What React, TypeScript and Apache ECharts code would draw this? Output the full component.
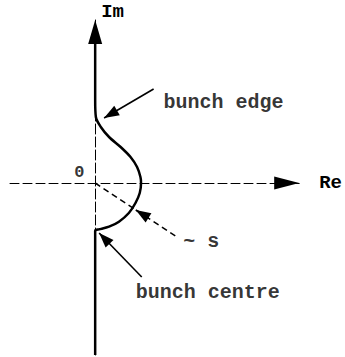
import React, { useEffect, useRef } from "react";
import * as echarts from "echarts";

const locusRe = [0, 0, 0, 0.7, 5.7, 14, 25.7, 35.7, 42.3, 45.7, 46.3, 45, 40.7, 34, 24, 14, 4, 0.7, 0, 0, 0];
const locusIm = [142, 100, 83, 66, 56, 46, 36, 26, 16, 6, 0, -10, -20, -30, -38.7, -43.7, -46.3, -47, -48, -62, -172];

// Annotation texts and their anchor points (Re, Im).
const noteTexts = ["bunch edge", "bunch centre", "~ s", "0"];
const noteRe = [69, 41, 89, -16];
const noteIm = [81, -109, -58, 11];

// Pointer arrows: [fromRe, fromIm, toRe, toIm]
const pointerEdge = [59, 94, 9, 65];
const pointerCentre = [47, -94, 4, -50];
const pointerRadius = [54, -35, 41, -27];
// Dashed radius line from the origin
const radiusLine = [0, 0, 81, -53];

const FONT = "'Liberation Mono', 'DejaVu Sans Mono', monospace";

export default function App() {
  const ref = useRef<HTMLDivElement>(null);

  useEffect(() => {
    if (!ref.current) return;
    const chart = echarts.init(ref.current, null, { renderer: "svg" });

    const locus = locusRe.map((x, i) => [x, locusIm[i]]);
    const notes = noteTexts.map((t, i) => ({
      value: [noteRe[i], noteIm[i], t],
      label:
        t === "0"
          ? { position: "inside", fontSize: 17 }
          : { position: "right", distance: 0 },
    }));

    const arrow = (p: number[]) => [
      { coord: [p[0], p[1]], symbol: "none" },
      { coord: [p[2], p[3]], symbol: "triangle", symbolSize: [11, 15], symbolOffset: [0, 7.5] },
    ];

    chart.setOption({
      animation: false,
      grid: { left: 10, right: 43, top: 20, bottom: 2 },
      xAxis: {
        type: "value",
        min: -86,
        max: 206,
        name: "Re",
        nameLocation: "end",
        nameGap: 20,
        nameTextStyle: {
          fontFamily: FONT,
          fontSize: 19,
          fontWeight: "bold",
          color: "#000",
          padding: [5, 0, 0, 0],
        },
        axisLine: {
          onZero: true,
          lineStyle: { color: "#000", width: 1, type: [9, 4] },
          symbol: ["none", "triangle"],
          symbolSize: [13, 25],
          symbolOffset: [0, -12.5],
        },
        axisTick: { show: false },
        axisLabel: { show: false },
        splitLine: { show: false },
      },
      yAxis: {
        type: "value",
        min: -172,
        max: 163,
        name: "Im",
        nameLocation: "end",
        nameGap: 8,
        nameTextStyle: {
          fontFamily: FONT,
          fontSize: 19,
          fontWeight: "bold",
          color: "#000",
          align: "left",
          verticalAlign: "middle",
          padding: [0, 0, 0, 6],
        },
        axisLine: {
          onZero: true,
          lineStyle: { color: "#000", width: 1, type: [10, 3] },
          symbol: ["none", "triangle"],
          symbolSize: [14, 24],
          symbolOffset: [0, -12],
        },
        axisTick: { show: false },
        axisLabel: { show: false },
        splitLine: { show: false },
      },
      series: [
        {
          type: "line",
          name: "locus",
          data: locus,
          smooth: 0.3,
          showSymbol: false,
          lineStyle: { color: "#000", width: 2.5 },
          silent: true,
          markLine: {
            silent: true,
            label: { show: false },
            lineStyle: { color: "#000", width: 1.6, type: "solid" },
            data: [arrow(pointerEdge), arrow(pointerCentre), arrow(pointerRadius)],
          },
        },
        {
          type: "scatter",
          name: "notes",
          data: notes,
          symbolSize: 0,
          clip: false,
          silent: true,
          label: {
            show: true,
            formatter: (p: any) => p.value[2],
            fontFamily: FONT,
            fontSize: 20,
            fontWeight: "bold",
            color: "#000",
          },
          markLine: {
            silent: true,
            symbol: ["none", "none"],
            label: { show: false },
            lineStyle: { color: "#000", width: 1.5, type: [6, 4] },
            data: [
              [
                { coord: [radiusLine[0], radiusLine[1]] },
                { coord: [radiusLine[2], radiusLine[3]] },
              ],
            ],
          },
        },
      ],
    });

    return () => chart.dispose();
  }, []);

  return (
    <div
      ref={ref}
      style={{ position: "fixed", left: 0, top: 0, width: 345, height: 357, background: "#fff" }}
    />
  );
}
